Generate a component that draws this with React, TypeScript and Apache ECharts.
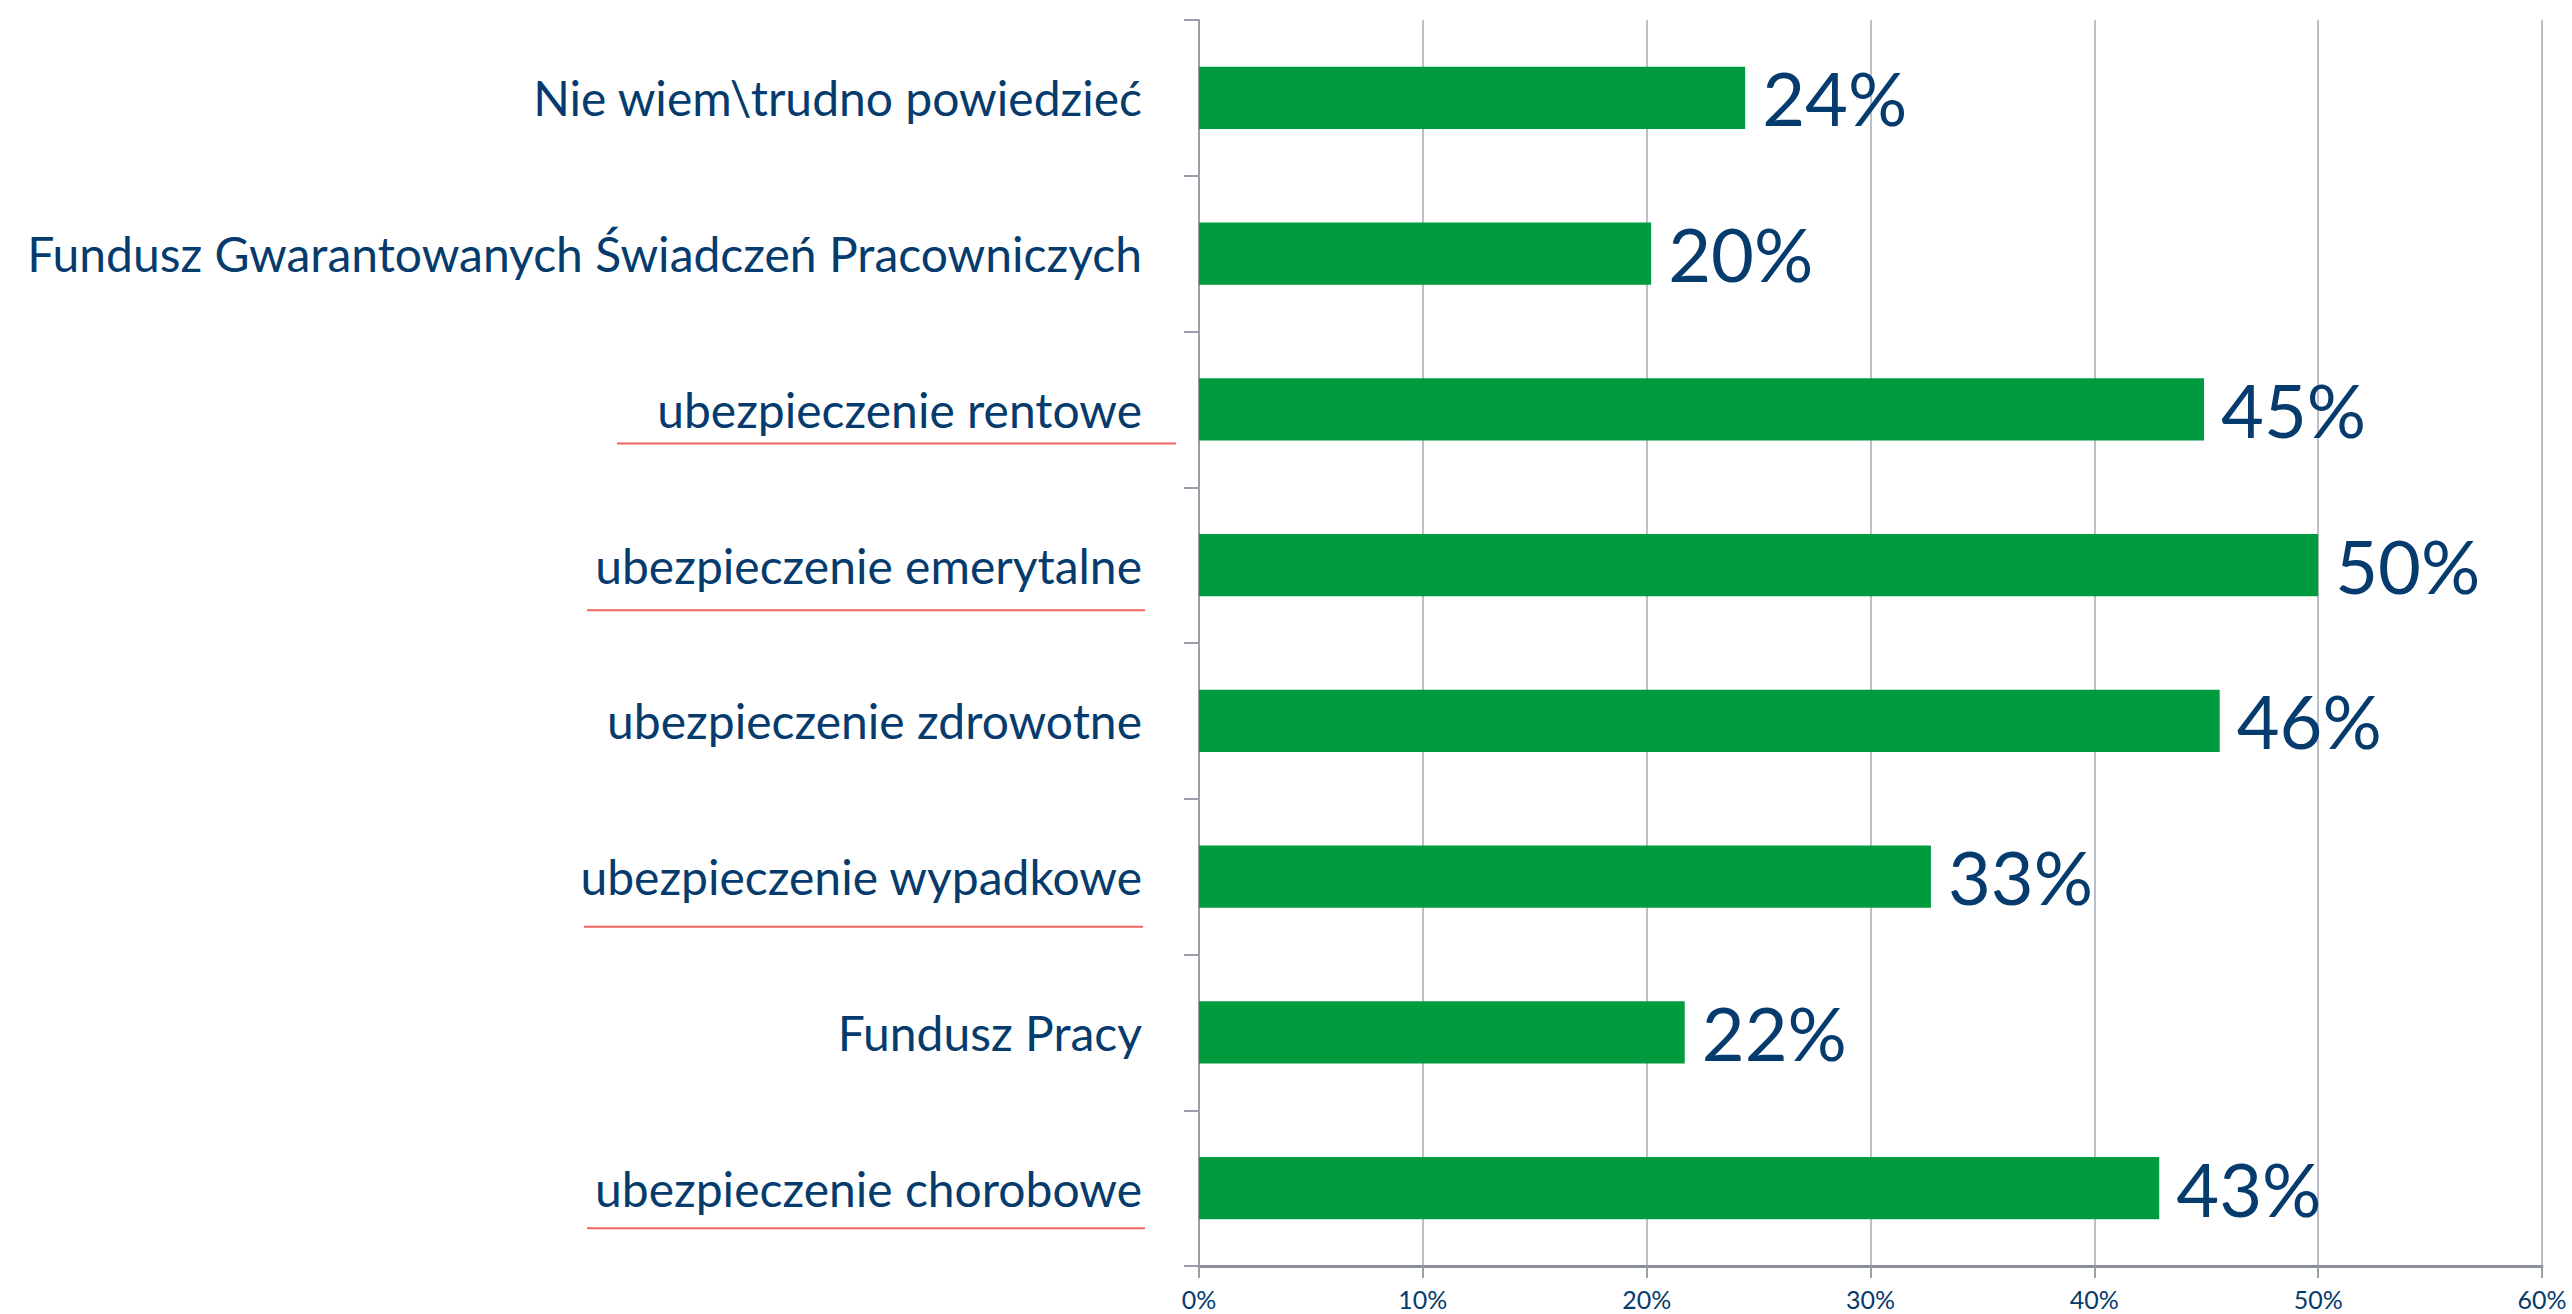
import React, { useEffect, useRef } from "react";
import * as echarts from "echarts";

const categories = [
  "ubezpieczenie chorobowe",
  "Fundusz Pracy",
  "ubezpieczenie wypadkowe",
  "ubezpieczenie zdrowotne",
  "ubezpieczenie emerytalne",
  "ubezpieczenie rentowe",
  "Fundusz Gwarantowanych Świadczeń Pracowniczych",
  "Nie wiem\\trudno powiedzieć",
];
const values = [42.9, 21.7, 32.7, 45.6, 50.0, 44.9, 20.2, 24.4];
const axisMax = 60;
const axisStep = 10;
const underlinedCategories = [
  "ubezpieczenie chorobowe",
  "ubezpieczenie wypadkowe",
  "ubezpieczenie emerytalne",
  "ubezpieczenie rentowe",
];
// decoration styling (pixel extents and offsets below each label)
const underlineStyle: Record<string, { x1: number; x2: number; dy: number }> = {
  "ubezpieczenie chorobowe": { x1: 587, x2: 1145, dy: 40 },
  "ubezpieczenie wypadkowe": { x1: 584, x2: 1143, dy: 50 },
  "ubezpieczenie emerytalne": { x1: 587, x2: 1145, dy: 45 },
  "ubezpieczenie rentowe": { x1: 617, x2: 1176, dy: 34 },
};

const NAVY = "#063b6d";
const GREEN = "#009a3f";
const FONT = "Lato, 'Open Sans', sans-serif";

export default function App() {
  const ref = useRef<HTMLDivElement>(null);
  useEffect(() => {
    if (!ref.current) return;
    const chart = echarts.init(ref.current, undefined, { renderer: "svg" });
    chart.setOption({
      animation: false,
      backgroundColor: "#ffffff",
      grid: { left: 1199, right: 30, top: 20, bottom: 48, containLabel: false },
      xAxis: {
        type: "value",
        min: 0,
        max: axisMax,
        interval: axisStep,
        axisLine: { show: true, lineStyle: { color: "#8b8f9c", width: 3 } },
        axisTick: { show: true, length: 12, lineStyle: { color: "#9a9eab", width: 2 } },
        splitLine: { show: true, lineStyle: { color: "#a7aab6", width: 1.5 } },
        axisLabel: {
          color: NAVY,
          fontFamily: FONT,
          fontSize: 25,
          margin: 20,
          formatter: (v: number) => `${v}%`,
        },
      },
      yAxis: {
        type: "category",
        data: categories,
        axisLine: { show: true, lineStyle: { color: "#9a9eab", width: 2 } },
        axisTick: { show: true, length: 15, lineStyle: { color: "#9a9eab", width: 2 } },
        axisLabel: {
          color: NAVY,
          fontFamily: FONT,
          fontSize: 48,
          margin: 57,
        },
      },
      series: [
        {
          type: "bar",
          data: values,
          barWidth: "40%",
          itemStyle: { color: GREEN },
          label: {
            show: true,
            position: "right",
            distance: 17,
            color: NAVY,
            fontFamily: FONT,
            fontSize: 74,
            formatter: (p: any) => `${Math.round(p.value)}%`,
          },
        },
      ],
    });
    const lines = underlinedCategories.map((c) => {
      const y = chart.convertToPixel({ yAxisIndex: 0 }, c) as number;
      const s = underlineStyle[c];
      return {
        type: "line",
        shape: { x1: s.x1, y1: y + s.dy, x2: s.x2, y2: y + s.dy },
        style: { stroke: "#ef6461", lineWidth: 2 },
      };
    });
    chart.setOption({ graphic: lines });
    return () => chart.dispose();
  }, []);
  return (
    <div
      ref={ref}
      style={{ position: "fixed", left: 0, top: 0, width: 2572, height: 1314, background: "#fff" }}
    />
  );
}
